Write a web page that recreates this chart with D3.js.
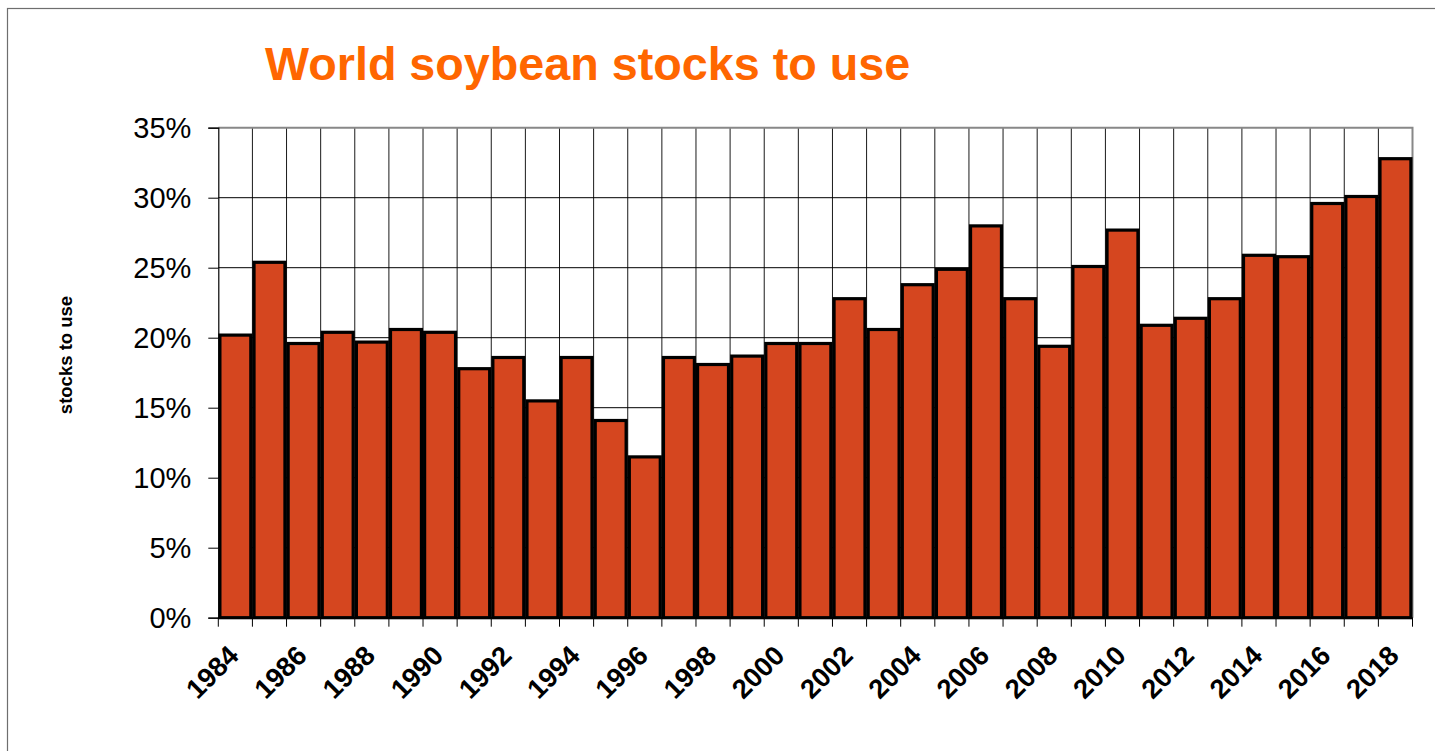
<!DOCTYPE html>
<html>
<head>
<meta charset="utf-8">
<script src="https://cdn.jsdelivr.net/npm/d3@7"></script>
<style>
  html, body { margin: 0; padding: 0; background: #fff; }
  svg { display: block; font-family: "Liberation Sans", Arial, Helvetica, sans-serif; }
</style>
</head>
<body>
<svg id="chart" width="1435" height="751"></svg>
<script>
// Marketing years shown on the category axis
const years = [1984, 1985, 1986, 1987, 1988, 1989, 1990, 1991, 1992, 1993,
               1994, 1995, 1996, 1997, 1998, 1999, 2000, 2001, 2002, 2003,
               2004, 2005, 2006, 2007, 2008, 2009, 2010, 2011, 2012, 2013,
               2014, 2015, 2016, 2017, 2018];

// World soybean ending stocks as a share of use (fraction)
const stocksToUse = [0.203, 0.255, 0.197, 0.205, 0.198, 0.207, 0.205, 0.179, 0.187, 0.156,
                     0.187, 0.142, 0.116, 0.187, 0.182, 0.188, 0.197, 0.197, 0.229, 0.207,
                     0.239, 0.250, 0.281, 0.229, 0.195, 0.252, 0.278, 0.210, 0.215, 0.229,
                     0.260, 0.259, 0.297, 0.302, 0.329];

// Value-axis ticks
const yTicks = [0, 0.05, 0.10, 0.15, 0.20, 0.25, 0.30, 0.35];
// Every other year gets a label
const xLabelYears = years.filter(y => y % 2 === 0);

const titleText = "World soybean stocks to use";
const yAxisTitle = "stocks to use";

const svg = d3.select("#chart");

const plot = { left: 218.3, right: 1412.5, top: 127.7, bottom: 617.7 };

const x = d3.scaleBand().domain(years).range([plot.left, plot.right]).padding(0);
const y = d3.scaleLinear().domain([0, 0.35]).range([plot.bottom, plot.top]);
const bw = x.bandwidth();

// Slide frame
svg.append("rect")
  .attr("x", 7.5).attr("y", 8.5)
  .attr("width", 1440).attr("height", 760)
  .attr("fill", "none").attr("stroke", "#6e6e6e").attr("stroke-width", 1.2);

// Title
svg.append("text")
  .attr("x", 265).attr("y", 80)
  .attr("fill", "#ff6600")
  .attr("font-size", 46.7)
  .attr("font-weight", "bold")
  .text(titleText);

// Vertical gridlines at every category boundary
const boundaries = years.map(d => x(d)).concat([plot.right]);
svg.append("g").selectAll("line")
  .data(boundaries.slice(1, -1))
  .join("line")
  .attr("x1", d => d).attr("x2", d => d)
  .attr("y1", plot.top).attr("y2", plot.bottom)
  .attr("stroke", "#1a1a1a").attr("stroke-width", 1);

// Horizontal gridlines
svg.append("g").selectAll("line")
  .data(yTicks.filter(t => t > 0 && t < 0.35))
  .join("line")
  .attr("x1", plot.left).attr("x2", plot.right)
  .attr("y1", d => y(d)).attr("y2", d => y(d))
  .attr("stroke", "#000").attr("stroke-width", 1);

// Plot border (top and right)
svg.append("path")
  .attr("d", `M${plot.left},${y(0.35)}H${plot.right}V${plot.bottom}`)
  .attr("fill", "none").attr("stroke", "#888").attr("stroke-width", 2);

// Bars
svg.append("g").selectAll("rect")
  .data(years.map((yr, i) => ({ yr, v: stocksToUse[i] })))
  .join("rect")
  .attr("x", d => x(d.yr) + 1.6)
  .attr("width", bw - 3.2)
  .attr("y", d => y(d.v) + 1.6)
  .attr("height", d => y(0) - y(d.v) - 1.6)
  .attr("fill", "#d5461f")
  .attr("stroke", "#000")
  .attr("stroke-width", 3.2);

// Y axis
const yAxis = svg.append("g")
  .attr("transform", `translate(${plot.left},0)`)
  .call(d3.axisLeft(y).tickValues(yTicks).tickFormat(d3.format(".0%")).tickSize(10).tickPadding(17));
yAxis.select(".domain").attr("stroke", "#000").attr("stroke-width", 1.2);
yAxis.selectAll(".tick line").attr("stroke", "#000");
yAxis.selectAll("text")
  .attr("font-size", 29)
  .attr("font-family", "Liberation Sans, Arial, sans-serif")
  .attr("fill", "#000")
  .attr("dy", "0.34em");

// X axis baseline and tick marks at category boundaries
svg.append("line")
  .attr("x1", plot.left).attr("x2", plot.right)
  .attr("y1", plot.bottom).attr("y2", plot.bottom)
  .attr("stroke", "#000").attr("stroke-width", 1.5);
svg.append("g").selectAll("line")
  .data(boundaries)
  .join("line")
  .attr("x1", d => d).attr("x2", d => d)
  .attr("y1", plot.bottom).attr("y2", plot.bottom + 9)
  .attr("stroke", "#000").attr("stroke-width", 1);

// X labels, rotated
const xAxis = svg.append("g")
  .attr("transform", `translate(0,${plot.bottom})`)
  .call(d3.axisBottom(x).tickValues(xLabelYears).tickSize(0).tickFormat(d3.format("d")));
xAxis.select(".domain").remove();
xAxis.selectAll("text")
  .attr("x", 0).attr("y", 0).attr("dy", 0)
  .attr("transform", "translate(5,39.5) rotate(-45)")
  .attr("text-anchor", "end")
  .attr("font-size", 27.3)
  .attr("font-weight", "bold")
  .attr("font-family", "Liberation Sans, Arial, sans-serif")
  .attr("fill", "#000");

// Y axis title
svg.append("text")
  .attr("transform", "translate(71.5,355) rotate(-90)")
  .attr("text-anchor", "middle")
  .attr("font-size", 18.5)
  .attr("font-weight", "bold")
  .attr("fill", "#000")
  .text(yAxisTitle);
</script>
</body>
</html>
